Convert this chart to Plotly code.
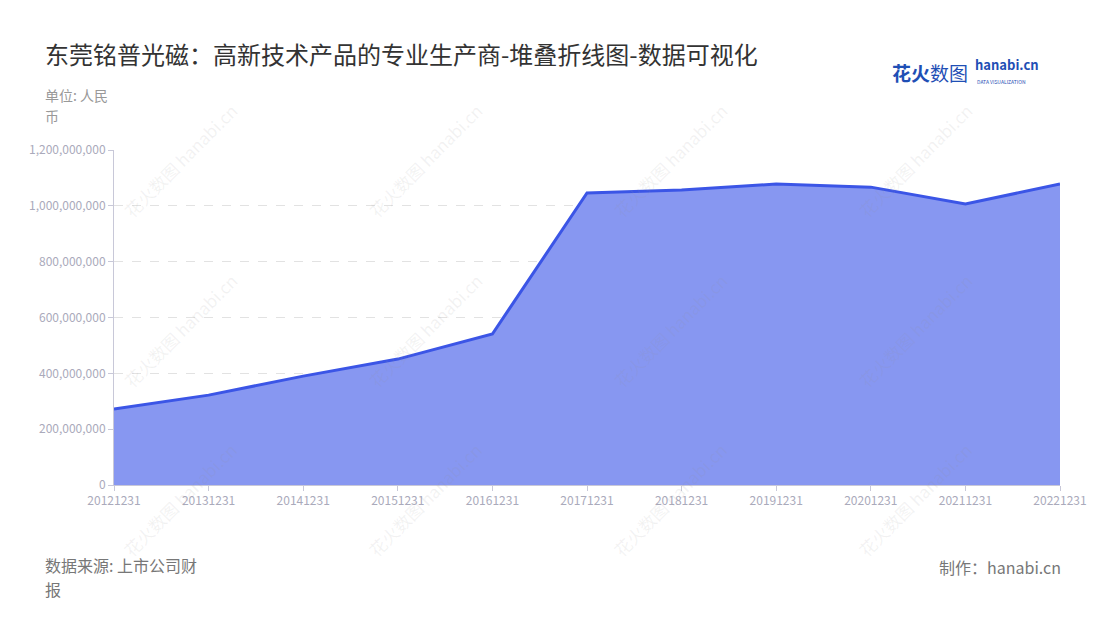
import plotly.graph_objects as go

categories = ["20121231", "20131231", "20141231", "20151231", "20161231", "20171231",
              "20181231", "20191231", "20201231", "20211231", "20221231"]
values = [272e6, 322e6, 390e6, 451e6, 541e6, 1046e6, 1057e6, 1078e6, 1067e6, 1007e6, 1078e6]
y_ticks = [0, 200e6, 400e6, 600e6, 800e6, 1000e6, 1200e6]
y_tick_labels = ["0", "200,000,000", "400,000,000", "600,000,000", "800,000,000",
                 "1,000,000,000", "1,200,000,000"]

FONT = "Noto Sans CJK SC"

# plot area in page pixels: x 114..1060, y 150..485 (page has 8px body margin)
PL, PR, PT, PB = 114, 1060, 150, 485
PW, PH = PR - PL, PB - PT


def px(x):
    return (x - PL) / PW


def py(y):
    return (PB - y) / PH


fig = go.Figure()
fig.add_trace(go.Scatter(
    x=categories, y=values, mode="lines",
    line=dict(color="#3b55e6", width=3),
    fill="tozeroy", fillcolor="rgba(135,151,241,1)",
    hoverinfo="x+y",
))

fig.update_layout(
    width=1100, height=620,
    paper_bgcolor="white", plot_bgcolor="white",
    margin=dict(l=PL - 8, r=1108 - PR, t=PT - 8, b=628 - PB),
    showlegend=False,
    font=dict(family=FONT, color="#999"),
    xaxis=dict(
        type="category", range=[0, len(categories) - 1],
        showgrid=False, showline=True, linecolor="#c8c8d8", linewidth=1,
        ticks="outside", ticklen=5, tickcolor="#c8c8d8",
        tickfont=dict(size=12, color="#aaaabb", family=FONT),
        zeroline=False,
    ),
    yaxis=dict(
        range=[0, 1200e6], tickvals=y_ticks, ticktext=y_tick_labels,
        showgrid=True, gridcolor="#e2e2e2", griddash="dash", gridwidth=1,
        showline=True, linecolor="#c8c8d8", linewidth=1,
        ticks="outside", ticklen=5, tickcolor="#c8c8d8",
        tickfont=dict(size=12, color="#aaaabb", family=FONT),
        zeroline=False,
    ),
)

# watermarks
for cx in [180, 425, 670, 915]:
    for cy in [160, 330, 500]:
        fig.add_annotation(text="花火数图 hanabi.cn",
                           xref="paper", yref="paper", x=px(cx), y=py(cy),
                           xanchor="center", yanchor="middle", showarrow=False,
                           textangle=-45,
                           font=dict(size=17, color="rgba(150,150,150,0.12)", family=FONT))


def text(t, x, y, size, color, xanchor="left"):
    fig.add_annotation(text=t, xref="paper", yref="paper", x=px(x), y=py(y),
                       xanchor=xanchor, yanchor="middle", showarrow=False,
                       borderpad=0,
                       font=dict(size=size, color=color, family=FONT))


text("东莞铭普光磁：高新技术产品的专业生产商-堆叠折线图-数据可视化", 44, 54, 24, "#333333")
text("单位: 人民", 44, 95, 14, "#999999")
text("币", 44, 116, 14, "#999999")
text("数据来源: 上市公司财", 44, 565, 16, "#777777")
text("报", 44, 589, 16, "#777777")
text("制作：hanabi.cn", 1062, 567, 16, "#777777", xanchor="right")

# logo
fig.add_annotation(text="<b>花火</b>数图",
                   xref="paper", yref="paper", x=px(890), y=py(72),
                   xanchor="left", yanchor="middle", showarrow=False,
                   font=dict(size=19, color="#1f4fb5", family=FONT))
fig.add_annotation(text="<b>hanabi.cn</b>",
                   xref="paper", yref="paper", x=px(973), y=py(76),
                   xanchor="left", yanchor="bottom", showarrow=False,
                   font=dict(size=13, color="#1f4fb5", family=FONT))
fig.add_annotation(text="DATA VISUALIZATION",
                   xref="paper", yref="paper", x=px(975), y=py(76),
                   xanchor="left", yanchor="top", showarrow=False,
                   font=dict(size=5, color="#1f4fb5", family=FONT))

fig.write_html("out.html")
